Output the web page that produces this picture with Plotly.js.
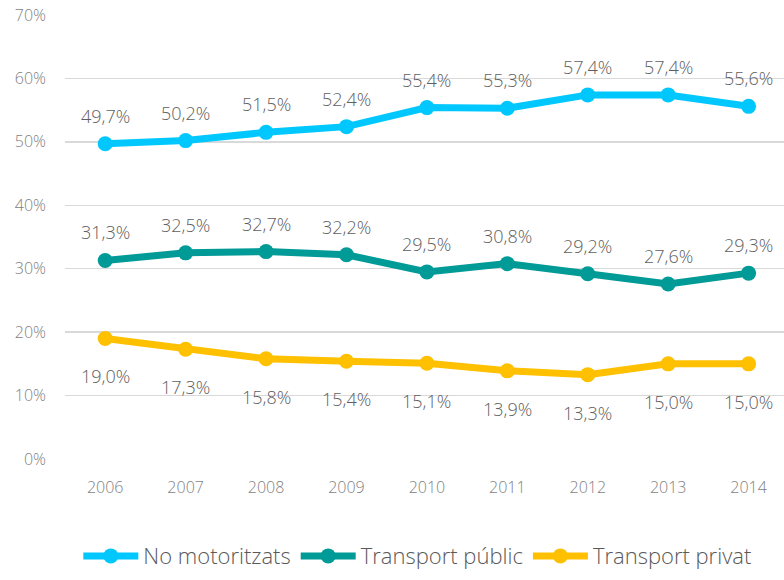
<!DOCTYPE html>
<html>
<head>
<meta charset="utf-8">
<script src="https://cdn.plot.ly/plotly-3.0.1.min.js"></script>
<style>html,body{margin:0;padding:0;background:#fff;}#chart{width:784px;height:580px;}</style>
</head>
<body>
<div id="chart"></div>
<script>
const years = ['2006','2007','2008','2009','2010','2011','2012','2013','2014'];
const noMotoritzats = [49.7, 50.2, 51.5, 52.4, 55.4, 55.3, 57.4, 57.4, 55.6];
const transportPublic = [31.3, 32.5, 32.7, 32.2, 29.5, 30.8, 29.2, 27.6, 29.3];
const transportPrivat = [19.0, 17.3, 15.8, 15.4, 15.1, 13.9, 13.3, 15.0, 15.0];
const seriesNames = ['No motoritzats', 'Transport públic', 'Transport privat'];
const yTicks = [0, 10, 20, 30, 40, 50, 60, 70];

const FONT = '"Open Sans", "Segoe UI", sans-serif';
const colors = ['#00C8FF', '#009A97', '#FFC000'];
const all = [noMotoritzats, transportPublic, transportPrivat];
const fmt = v => v.toFixed(1).replace('.', ',') + '%';

const traces = all.map((vals, i) => ({
  x: years, y: vals, name: seriesNames[i], type: 'scatter', mode: 'lines+markers',
  line: {color: colors[i], width: 7},
  marker: {color: colors[i], size: 15},
  hoverinfo: 'skip'
}));

const annotations = [];
all.forEach((vals, i) => {
  vals.forEach((v, j) => {
    annotations.push({
      x: j, y: v, xref: 'x', yref: 'y', text: fmt(v), showarrow: false,
      yshift: i === 2 ? -38 : 28,
      font: {family: FONT, size: 18, color: '#606060', weight: 300}
    });
  });
});

const layout = {
  width: 784, height: 580,
  margin: {l: 65, r: 0, t: 15, b: 121},
  paper_bgcolor: '#fff', plot_bgcolor: '#fff',
  showlegend: true,
  legend: {orientation: 'h', x: 0.49, xanchor: 'center', xref: 'paper', yref: 'container', y: 0.005, yanchor: 'bottom',
    font: {family: FONT, size: 22, color: '#595959', weight: 300}, itemwidth: 55, tracegroupgap: 0},
  xaxis: {type: 'category', range: [-0.5, 8.44], showgrid: false, zeroline: false, showline: false,
    ticks: '', tickfont: {family: FONT, size: 16, color: '#7f7f7f', weight: 300}, ticklabelstandoff: 17},
  yaxis: {range: [0, 70], tickvals: yTicks, ticktext: yTicks.map(t => t + '%'),
    showgrid: true, gridcolor: '#d9d9d9', gridwidth: 1.5, zeroline: false, showline: false,
    ticks: '', ticklabelstandoff: 18,
    tickfont: {family: FONT, size: 16, color: '#7f7f7f', weight: 300}},
  annotations: annotations
};

Plotly.newPlot('chart', traces, layout, {displayModeBar: false, staticPlot: true});
</script>
</body>
</html>
